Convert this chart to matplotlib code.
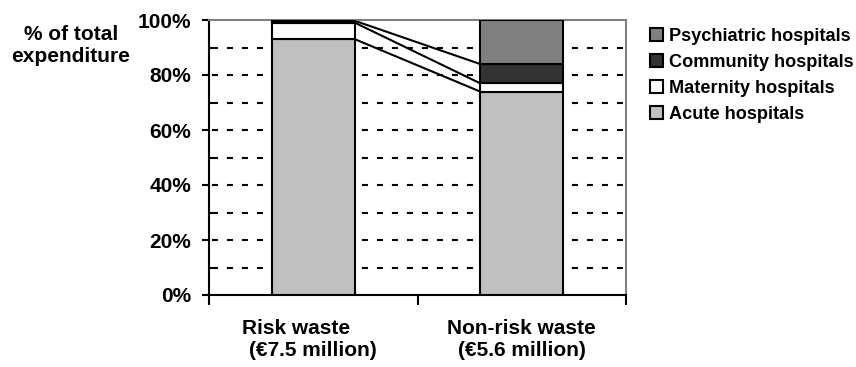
import matplotlib
matplotlib.use("Agg")
import matplotlib.pyplot as plt
from matplotlib.patches import Patch
import numpy as np

plt.rcParams["font.family"] = ["Liberation Sans", "DejaVu Sans"]
plt.rcParams["font.weight"] = "bold"

categories = ["Risk waste      \n(€7.5 million)", "Non-risk waste\n(€5.6 million)"]
series_names = ["Acute hospitals", "Maternity hospitals", "Community hospitals", "Psychiatric hospitals"]
acute = [93.0, 74.0]
maternity = [6.0, 3.0]
community = [0.7, 7.0]
psychiatric = [0.3, 16.0]
series_colors = ["#c0c0c0", "#ffffff", "#333333", "#808080"]

values = [acute, maternity, community, psychiatric]

fig = plt.figure(figsize=(8.56, 3.67), dpi=100)
ax = fig.add_axes([209 / 856, 72 / 367, 417 / 856, 275 / 367])

x = np.arange(len(categories))
width = 0.4
bottom = np.zeros(len(categories))
tops = []
for vals, color in zip(values, series_colors):
    ax.bar(x, vals, width, bottom=bottom, color=color, edgecolor="black",
           linewidth=1.5, zorder=3)
    bottom = bottom + np.array(vals)
    tops.append(bottom.copy())

# series lines joining the stacked segment tops between the two columns
for t in tops[:-1]:
    ax.plot([x[0] + width / 2, x[1] - width / 2], [t[0], t[1]],
            color="black", linewidth=1.5, zorder=2)

ax.set_xlim(-0.5, 1.5)
ax.set_ylim(0, 100)

ax.set_yticks(np.arange(0, 101, 20))
ax.set_yticklabels([f"{v}%" for v in range(0, 101, 20)])
ax.set_yticks(np.arange(10, 100, 20), minor=True)
ax.tick_params(axis="y", which="major", direction="out", length=5, width=1.5,
               labelsize=15, pad=8)
ax.tick_params(axis="y", which="minor", direction="in", length=3, width=1.5)

ax.set_xticks(x)
ax.set_xticklabels(categories)
ax.set_xticks([-0.5, 0.5, 1.5], minor=True)
ax.tick_params(axis="x", which="major", length=0, labelsize=15, pad=17)
ax.tick_params(axis="x", which="minor", direction="out", length=7, width=1.5)

for g in range(10, 100, 10):
    ax.axhline(g, color="black", linewidth=1.5, linestyle=(-1.4, (2.9, 4.3)),
               zorder=1)

ax.spines["left"].set_linewidth(1.5)
ax.spines["bottom"].set_linewidth(1.5)
ax.spines["top"].set_color("#808080")
ax.spines["right"].set_color("#808080")
ax.spines["top"].set_linewidth(1.5)
ax.spines["right"].set_linewidth(1.5)

fig.text(71 / 856, 1 - 45 / 367, "% of total\nexpenditure", ha="center",
         va="center", fontsize=15, fontweight="bold", multialignment="center")

handles = [Patch(facecolor=c, edgecolor="black", linewidth=1.5)
           for c in series_colors]
leg = fig.legend(handles[::-1], series_names[::-1], loc="upper left",
                 bbox_to_anchor=(650 / 856, 1 - 28 / 367), frameon=False,
                 handlelength=0.72, handleheight=0.72,
                 handletextpad=0.3, labelspacing=0.5, borderpad=0,
                 borderaxespad=0, prop={"weight": "bold", "size": 13.1})

fig.savefig("out.png", dpi=100)
